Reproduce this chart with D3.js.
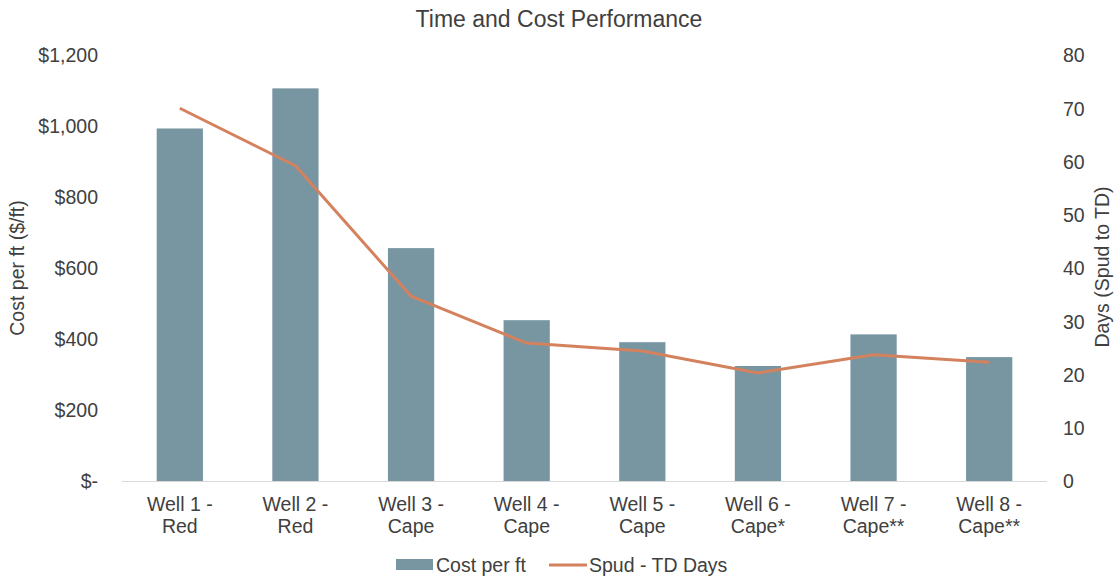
<!DOCTYPE html>
<html>
<head>
<meta charset="utf-8">
<script src="https://cdn.jsdelivr.net/npm/d3@7"></script>
<style>
    body { margin: 0; background: #fff; }
    text { font-family: "Liberation Sans", Arial, sans-serif; fill: #404040; }
</style>
</head>
<body>
<svg id="chart" width="1116" height="578"></svg>
<script>
// chart data
let wells = ["Well 1 -|Red", "Well 2 -|Red", "Well 3 -|Cape", "Well 4 -|Cape",
    "Well 5 -|Cape", "Well 6 -|Cape*", "Well 7 -|Cape**", "Well 8 -|Cape**"];
let costPerFt = [993, 1106, 656, 453, 391, 324, 413, 349];
let spudDays = [70, 59.2, 34.7, 25.9, 24.4, 20.3, 23.7, 22.3];
let costTicks = [0, 200, 400, 600, 800, 1000, 1200];
let dayTicks = [0, 10, 20, 30, 40, 50, 60, 70, 80];

let barColor = "#7895a2";
let lineColor = "#d4825e";
let fontSize = "19.5px";

let svg = d3.select("#chart");
let plotLeft = 122, plotRight = 1047, plotTop = 55, plotBottom = 481;

let x = d3.scaleBand()
    .domain(wells)
    .range([plotLeft, plotRight])
    .padding(0);

let yCost = d3.scaleLinear().domain([0, 1200]).range([plotBottom, plotTop]);
let yDays = d3.scaleLinear().domain([0, 80]).range([plotBottom, plotTop]);

let barW = x.bandwidth() * 0.4;

// title
svg.append("text")
    .attr("x", 559)
    .attr("y", 27)
    .attr("text-anchor", "middle")
    .style("font-size", "23px")
    .text("Time and Cost Performance");

// left axis
let leftAxis = d3.axisLeft(yCost)
    .tickValues(costTicks)
    .tickSize(0)
    .tickPadding(0)
    .tickFormat(d => d === 0 ? "$-" : "$" + d3.format(",")(d));

svg.append("g")
    .attr("transform", "translate(98,0)")
    .call(leftAxis)
    .call(g => g.select(".domain").remove())
    .selectAll("text")
    .attr("dy", "0.35em")
    .style("font-size", fontSize)
    .style("font-family", "'Liberation Sans', Arial, sans-serif")
    .attr("fill", "#404040");

// right axis
let rightAxis = d3.axisRight(yDays)
    .tickValues(dayTicks)
    .tickSize(0)
    .tickPadding(0);

svg.append("g")
    .attr("transform", "translate(1063,0)")
    .call(rightAxis)
    .call(g => g.select(".domain").remove())
    .selectAll("text")
    .attr("dy", "0.35em")
    .style("font-size", fontSize)
    .style("font-family", "'Liberation Sans', Arial, sans-serif")
    .attr("fill", "#404040");

// axis titles
svg.append("text")
    .attr("transform", "translate(24,268) rotate(-90)")
    .attr("text-anchor", "middle")
    .style("font-size", fontSize)
    .text("Cost per ft ($/ft)");

svg.append("text")
    .attr("transform", "translate(1109,267) rotate(-90)")
    .attr("text-anchor", "middle")
    .style("font-size", fontSize)
    .text("Days (Spud to TD)");

// bars
svg.append("g")
    .selectAll("rect")
    .data(costPerFt)
    .enter()
    .append("rect")
    .attr("x", (d, i) => x(wells[i]) + x.bandwidth() / 2 - barW / 2)
    .attr("y", d => yCost(d))
    .attr("width", barW)
    .attr("height", d => plotBottom - yCost(d))
    .attr("fill", barColor);

// baseline
svg.append("line")
    .attr("x1", plotLeft)
    .attr("x2", plotRight)
    .attr("y1", plotBottom + 0.5)
    .attr("y2", plotBottom + 0.5)
    .attr("stroke", "#d9d9d9")
    .attr("stroke-width", 1);

// category labels
let cat = svg.append("g")
    .selectAll("text")
    .data(wells)
    .enter()
    .append("text")
    .attr("text-anchor", "middle")
    .style("font-size", fontSize);

cat.append("tspan")
    .attr("x", d => x(d) + x.bandwidth() / 2)
    .attr("y", 511)
    .text(d => d.split("|")[0]);
cat.append("tspan")
    .attr("x", d => x(d) + x.bandwidth() / 2)
    .attr("y", 533)
    .text(d => d.split("|")[1]);

// line
let line = d3.line()
    .x((d, i) => x(wells[i]) + x.bandwidth() / 2)
    .y(d => yDays(d));

svg.append("path")
    .datum(spudDays)
    .attr("d", line)
    .attr("fill", "none")
    .attr("stroke", lineColor)
    .attr("stroke-width", 3)
    .attr("stroke-linejoin", "round");

// legend
let legend = svg.append("g");
legend.append("rect")
    .attr("x", 396)
    .attr("y", 559)
    .attr("width", 37)
    .attr("height", 11)
    .attr("fill", barColor);
legend.append("text")
    .attr("x", 436)
    .attr("y", 572)
    .style("font-size", fontSize)
    .text("Cost per ft");
legend.append("line")
    .attr("x1", 549)
    .attr("x2", 587)
    .attr("y1", 565)
    .attr("y2", 565)
    .attr("stroke", lineColor)
    .attr("stroke-width", 3);
legend.append("text")
    .attr("x", 589)
    .attr("y", 572)
    .style("font-size", fontSize)
    .text("Spud - TD Days");
</script>
</body>
</html>
